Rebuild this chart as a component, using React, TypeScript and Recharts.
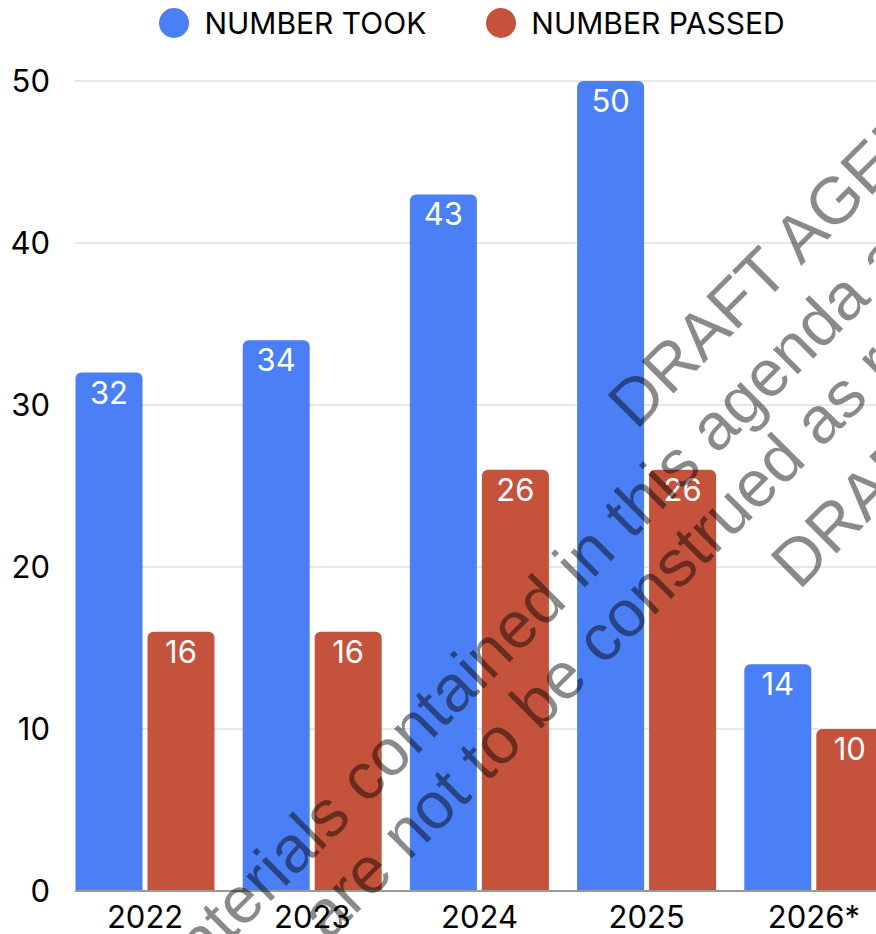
import { Bar, BarChart, CartesianGrid, LabelList, Legend, XAxis, YAxis } from "recharts";

const years = ["2022", "2023", "2024", "2025", "2026*"];
const numberTook = [32, 34, 43, 50, 14];
const numberPassed = [16, 16, 26, 26, 10];
const yTicks = [0, 10, 20, 30, 40, 50];
const seriesNames = ["NUMBER TOOK", "NUMBER PASSED"];
const watermarkLines = [
    "DRAFT AGENDA",
    "materials contained in this agenda are",
    "are not to be construed as representing",
    "DRAFT AGENDA",
];

const colors = ["#4a7ff5", "#c5523a"];
const font = "Inter, 'Noto Sans', sans-serif";

const data = years.map((year, i) => ({ year, took: numberTook[i], passed: numberPassed[i] }));

function renderLegend() {
    return (
        <div style={{ display: "flex", justifyContent: "center", alignItems: "center", height: 46, gap: 60, fontFamily: font, fontSize: 30, color: "#000" }}>
            {seriesNames.map((name, i) => (
                <div key={name} style={{ display: "flex", alignItems: "center", gap: 15 }}>
                    <span style={{ width: 30, height: 30, borderRadius: "50%", background: colors[i], display: "inline-block" }} />
                    <span>{name}</span>
                </div>
            ))}
        </div>
    );
}

// watermark placement: [x, y] of each line's baseline start, rotated -45deg
const wmPos = [[636, 431], [164, 1008], [328, 942], [799, 591]];

function App() {
    return (
        <div style={{ position: "absolute", left: 0, top: 0, width: 876, height: 934, overflow: "hidden", background: "#fff" }}>
            <BarChart width={884} height={934} data={data} margin={{ top: 35, right: 0, bottom: 0, left: 0 }} barSize={67} barGap={5}>
                <Legend verticalAlign="top" content={renderLegend} wrapperStyle={{ top: 0, left: 0, width: 944 }} />
                <CartesianGrid vertical={false} stroke="#cfcfcf" />
                <XAxis dataKey="year" interval={0} tickLine={false} tickSize={0} tickMargin={15} height={43}
                    axisLine={{ stroke: "#9a9a9a", strokeWidth: 2 }} padding={{ left: -13.5, right: -13.5 }}
                    tick={{ fill: "#000", fontSize: 31, fontFamily: font }} />
                <YAxis width={75} domain={[0, 50]} ticks={yTicks} axisLine={false} tickLine={false} tickSize={0} tickMargin={25}
                    tick={{ fill: "#000", fontSize: 31, fontFamily: font }} />
                <Bar dataKey="took" name={seriesNames[0]} fill={colors[0]} radius={[6, 6, 0, 0]} isAnimationActive={false}>
                    <LabelList dataKey="took" position="insideTop" offset={9} fill="#fff" fontSize={31} fontFamily={font} />
                </Bar>
                <Bar dataKey="passed" name={seriesNames[1]} fill={colors[1]} radius={[6, 6, 0, 0]} isAnimationActive={false}>
                    <LabelList dataKey="passed" position="insideTop" offset={9} fill="#fff" fontSize={31} fontFamily={font} />
                </Bar>
            </BarChart>
            <svg width={876} height={934} style={{ position: "absolute", left: 0, top: 0, pointerEvents: "none" }}>
                {watermarkLines.map((line, i) => (
                    <text key={i} x={wmPos[i][0]} y={wmPos[i][1]} transform={`rotate(-45 ${wmPos[i][0]} ${wmPos[i][1]})`}
                        fontFamily="'Liberation Sans', Arial, sans-serif" fontSize={66} fill="#000" fillOpacity={0.46}>
                        {line}
                    </text>
                ))}
            </svg>
        </div>
    );
}

export default App;
